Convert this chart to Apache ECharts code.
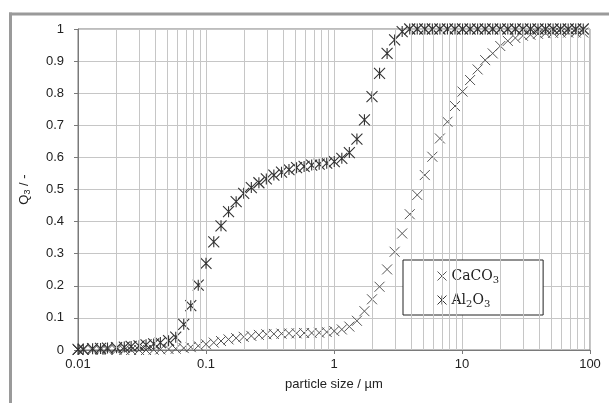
<!DOCTYPE html>
<html><head><meta charset="utf-8">
<script src="https://cdn.jsdelivr.net/npm/echarts@6/dist/echarts.min.js"></script>
<style>html,body{margin:0;padding:0;background:#fff}#c{width:609px;height:403px}</style>
</head><body><div id="c"></div>
<script>
// particle size classes (µm)
const sizes = [0.010,0.011,0.013,0.015,0.017,0.020,0.023,0.026,0.030,0.034,0.039,0.044,0.051,0.058,0.067,0.076,0.087,0.100,0.115,0.131,0.150,0.172,0.197,0.226,0.259,0.296,0.339,0.389,0.445,0.510,0.584,0.669,0.766,0.877,1.005,1.151,1.318,1.510,1.729,1.981,2.269,2.599,2.976,3.409,3.905,4.472,5.122,5.867,6.720,7.697,8.816,10.097,11.565,13.246,15.172,17.377,19.904,22.797,26.111,29.907,34.255,39.234,44.938,51.471,58.953,67.523,77.340,88.583];
// Q3 values
const caco3 = [0,0,0,0,0,0,0,0,0,0,
  0.001,0.002,0.003,0.004,0.006,0.009,0.013,0.018,0.023,0.028,
  0.033,0.037,0.041,0.044,0.047,0.049,0.050,0.051,0.052,0.052,
  0.053,0.053,0.054,0.056,0.059,0.064,0.073,0.091,0.121,0.158,
  0.197,0.251,0.306,0.363,0.423,0.483,0.545,0.602,0.659,0.711,
  0.760,0.805,0.841,0.874,0.903,0.924,0.947,0.963,0.972,0.979,
  0.982,0.985,0.987,0.988,0.989,0.989,0.989,0.989];
const al2o3 = [0.002,0.003,0.004,0.005,0.006,0.007,0.009,0.011,0.013,0.016,
  0.019,0.023,0.029,0.040,0.080,0.138,0.202,0.270,0.337,0.387,
  0.431,0.462,0.488,0.506,0.521,0.533,0.545,0.554,0.562,0.568,
  0.572,0.576,0.579,0.582,0.587,0.597,0.615,0.657,0.717,0.789,
  0.862,0.924,0.966,0.992,1,1,1,1,1,1,
  1,1,1,1,1,1,1,1,1,1,
  1,1,1,1,1,1,1,1];
const seriesNames = ['CaCO3', 'Al2O3'];
const legendRich = {'CaCO3': '{m|CaCO}{s|3}', 'Al2O3': '{m|Al}{s|2}{m|O}{s|3}'};
const xTickLabels = ['0.01', '0.1', '1', '10', '100'];
const yTickLabels = ['0','0.1','0.2','0.3','0.4','0.5','0.6','0.7','0.8','0.9','1'];
const minorGrid = [0.02,0.03,0.04,0.05,0.06,0.07,0.08,0.09,
  0.2,0.3,0.4,0.5,0.6,0.7,0.8,0.9,
  2,3,4,5,6,7,8,9,
  20,30,40,50,60,70,80,90];

const crossPath = 'path://M0,0L10,10M10,0L0,10';
const starPath = 'path://M0,0L10,10M10,0L0,10M5,0L5,10';
const gridColor = '#c6c6c6';
const font = "'Liberation Sans', Arial, sans-serif";
const serif = "'DejaVu Serif', serif";

const chart = echarts.init(document.getElementById('c'), null, {renderer: 'canvas'});
chart.setOption({
  animation: false,
  backgroundColor: '#fff',
  grid: {left: 78, right: 19, top: 29, bottom: 53, show: true, borderColor: '#7a7a7a', borderWidth: 1},
  xAxis: {
    type: 'log', logBase: 10, min: 0.01, max: 100,
    name: 'particle size / µm', nameLocation: 'middle', nameGap: 28,
    nameTextStyle: {fontFamily: font, fontSize: 13, color: '#222'},
    axisLine: {lineStyle: {color: '#7a7a7a'}},
    axisTick: {show: true, length: 4, lineStyle: {color: '#7a7a7a'}},
    axisLabel: {fontFamily: font, fontSize: 13, color: '#222', margin: 8,
      formatter: (v, i) => xTickLabels[i]},
    splitLine: {show: true, lineStyle: {color: gridColor, width: 1}}
  },
  yAxis: {
    type: 'value', min: 0, max: 1, interval: 0.1,
    name: '{m|Q}{s|3}{m| / -}', nameLocation: 'middle', nameGap: 46,
    nameTextStyle: {fontFamily: font, fontSize: 13, color: '#222',
      rich: {m: {fontFamily: font, fontSize: 13, color: '#222', lineHeight: 16},
             s: {fontFamily: font, fontSize: 9, color: '#222', lineHeight: 9, verticalAlign: 'bottom'}}},
    axisLine: {show: true, lineStyle: {color: '#7a7a7a'}},
    axisTick: {show: true, length: 4, lineStyle: {color: '#7a7a7a'}},
    axisLabel: {fontFamily: font, fontSize: 13, color: '#222', margin: 14,
      formatter: (v, i) => yTickLabels[i]},
    splitLine: {show: true, lineStyle: {color: gridColor, width: 1}}
  },
  legend: {
    orient: 'vertical', left: 403, top: 260,
    padding: [9, 44, 6, 34], itemGap: 8, itemWidth: 9, itemHeight: 9, itemTextGap: 7,
    backgroundColor: '#fff', borderColor: '#222', borderWidth: 1,
    formatter: n => legendRich[n],
    textStyle: {fontFamily: serif, fontSize: 14, color: '#222',
      rich: {m: {fontFamily: serif, fontSize: 14, color: '#222', lineHeight: 18},
             s: {fontFamily: serif, fontSize: 10, color: '#222', lineHeight: 10, verticalAlign: 'bottom'}}},
    data: [
      {name: seriesNames[0], icon: crossPath,
        itemStyle: {color: 'rgba(0,0,0,0)', borderColor: '#555', borderWidth: 1}},
      {name: seriesNames[1], icon: starPath,
        itemStyle: {color: 'rgba(0,0,0,0)', borderColor: '#333', borderWidth: 1}}
    ]
  },
  graphic: [
    {type: 'line', shape: {x1: 9, y1: 14, x2: 609, y2: 14}, style: {stroke: '#9a9a9a', lineWidth: 3}},
    {type: 'line', shape: {x1: 10.5, y1: 12.5, x2: 10.5, y2: 403}, style: {stroke: '#9a9a9a', lineWidth: 3}}
  ],
  series: [
    {
      type: 'scatter', name: '_grid', z: 1, silent: true, data: [],
      markLine: {silent: true, symbol: ['none', 'none'], label: {show: false},
        lineStyle: {color: gridColor, width: 1, type: 'solid'},
        data: minorGrid.map(v => ({xAxis: v}))}
    },
    {
      type: 'scatter', name: seriesNames[0], z: 3,
      symbol: crossPath, symbolSize: 10,
      itemStyle: {color: 'rgba(0,0,0,0)', borderColor: '#555', borderWidth: 1, opacity: 1},
      data: sizes.map((s, i) => [s, caco3[i]])
    },
    {
      type: 'scatter', name: seriesNames[1], z: 4,
      symbol: starPath, symbolSize: 11,
      itemStyle: {color: 'rgba(0,0,0,0)', borderColor: '#333', borderWidth: 1.1, opacity: 1},
      data: sizes.map((s, i) => [s, al2o3[i]])
    }
  ]
});
</script></body></html>
